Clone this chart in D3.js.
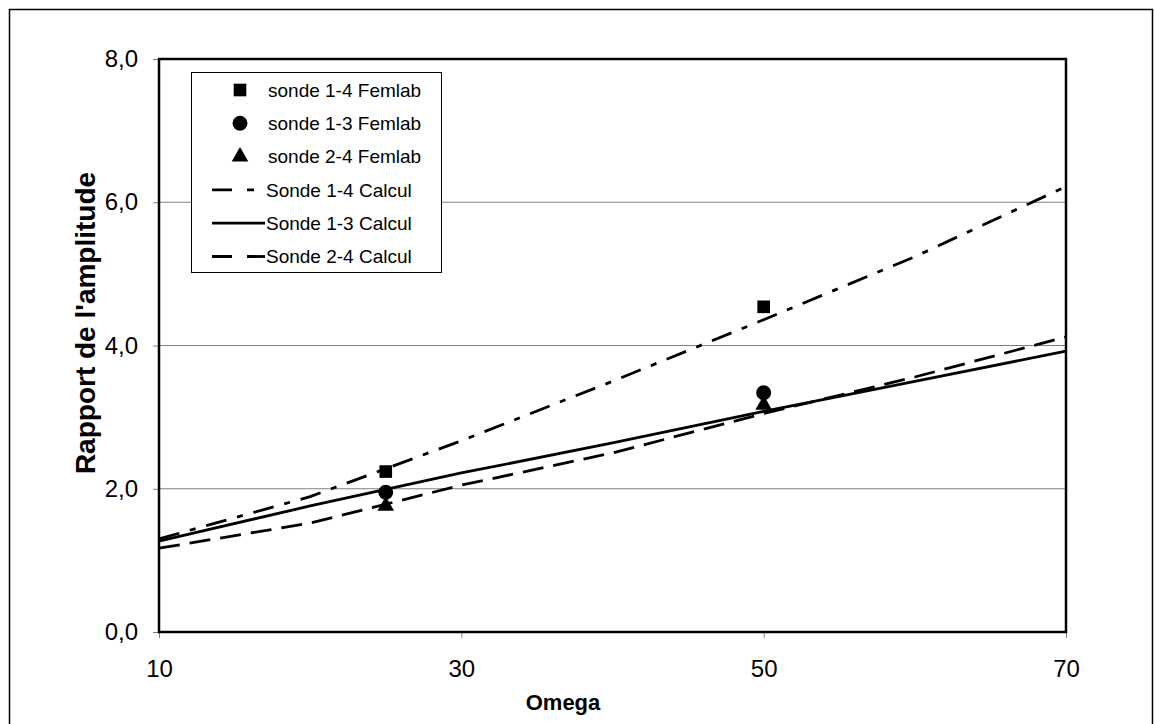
<!DOCTYPE html>
<html><head><meta charset="utf-8">
<script src="https://cdn.jsdelivr.net/npm/d3@7/dist/d3.min.js"></script>
<style>body{margin:0;background:#fff;} svg{display:block;font-family:"Liberation Sans",Arial,sans-serif;}</style>
</head><body>
<svg id="c" width="1154" height="724"></svg>
<script>
// Data
const femlabX = [25, 50];
const sonde14Femlab = [2.24, 4.54];
const sonde13Femlab = [1.95, 3.34];
const sonde24Femlab = [1.76, 3.17];
const calculX = [10, 20, 30, 40, 50, 60, 70];
const sonde14Calcul = [1.30, 1.89, 2.67, 3.50, 4.36, 5.24, 6.22];
const sonde13Calcul = [1.27, 1.76, 2.22, 2.64, 3.08, 3.50, 3.92];
const sonde24Calcul = [1.17, 1.52, 2.05, 2.50, 3.05, 3.56, 4.12];
const xTicks = [10, 30, 50, 70];
const yTicks = [0, 2, 4, 6, 8];
const legendLabels = ["sonde 1-4 Femlab","sonde 1-3 Femlab","sonde 2-4 Femlab","Sonde 1-4 Calcul","Sonde 1-3 Calcul","Sonde 2-4 Calcul"];

const svg = d3.select("#c");
const L = 159, R = 1066, T = 59, B = 632;
const x = d3.scaleLinear().domain([10, 70]).range([L, R]);
const y = d3.scaleLinear().domain([0, 8]).range([B, T]);

// outer frame
svg.append("rect").attr("x", 9.5).attr("y", 9.5).attr("width", 1143).attr("height", 720)
  .attr("fill", "none").attr("stroke", "#000").attr("stroke-width", 1.5);

// gridlines
svg.append("g").selectAll("line").data([2, 4, 6]).join("line")
  .attr("x1", L).attr("x2", R).attr("y1", d => y(d)).attr("y2", d => y(d))
  .attr("stroke", "#808080").attr("stroke-width", 1);

// axes
const fmt = d => d3.format(".1f")(d).replace(".", ",");
const yAxis = svg.append("g").attr("transform", `translate(${L},0)`)
  .call(d3.axisLeft(y).tickValues(yTicks).tickFormat(fmt).tickSize(6).tickPadding(15));
const xAxis = svg.append("g").attr("transform", `translate(0,${B})`)
  .call(d3.axisBottom(x).tickValues(xTicks).tickFormat(d3.format("d")).tickSize(6).tickPadding(22));
[yAxis, xAxis].forEach(a => {
  a.select(".domain").remove();
  a.selectAll(".tick line").attr("stroke", "#808080");
  a.selectAll(".tick text").attr("font-size", 24).attr("fill", "#000").attr("font-family", "Liberation Sans, Arial, sans-serif");
});

// lines
const line = d3.line().x((d, i) => x(calculX[i])).y(d => y(d));
const series = [
  {v: sonde14Calcul, dash: "21,11,6,11"},
  {v: sonde13Calcul, dash: null},
  {v: sonde24Calcul, dash: "21,10"}
];
series.forEach(s => {
  svg.append("path").attr("d", line(s.v)).attr("fill", "none").attr("stroke", "#000")
    .attr("stroke-width", 2.8).attr("stroke-dasharray", s.dash);
});

// markers
const sym = [d3.symbolSquare, d3.symbolCircle, d3.symbolTriangle];
const symSize = [160, 175, 120];
[sonde14Femlab, sonde13Femlab, sonde24Femlab].forEach((vals, k) => {
  svg.append("g").selectAll("path").data(vals).join("path")
    .attr("d", d3.symbol().type(sym[k]).size(symSize[k]))
    .attr("transform", (d, i) => `translate(${x(femlabX[i])},${y(d)})`)
    .attr("fill", "#000");
});

// plot border
svg.append("rect").attr("x", L).attr("y", T).attr("width", R - L).attr("height", B - T)
  .attr("fill", "none").attr("stroke", "#000").attr("stroke-width", 2.5);

// axis titles
svg.append("text").attr("x", 563).attr("y", 710).attr("text-anchor", "middle")
  .attr("font-size", 22).attr("font-weight", "bold").text("Omega");
svg.append("text").attr("transform", `translate(95,323) rotate(-90)`).attr("text-anchor", "middle")
  .attr("font-size", 28).attr("font-weight", "bold").text("Rapport de l'amplitude");

// legend
const lg = svg.append("g");
lg.append("rect").attr("x", 191.5).attr("y", 72.5).attr("width", 250).attr("height", 200)
  .attr("fill", "#fff").attr("stroke", "#000").attr("stroke-width", 1);
const rowY = i => 90 + i * 33.3;
legendLabels.forEach((t, i) => {
  const yy = rowY(i);
  if (i < 3) {
    lg.append("path").attr("d", d3.symbol().type(sym[i]).size(symSize[i])())
      .attr("transform", `translate(240,${yy})`).attr("fill", "#000");
    lg.append("text").attr("x", 268).attr("y", yy).attr("dy", "0.35em").attr("font-size", 19).text(t);
  } else {
    lg.append("line").attr("x1", 212).attr("x2", 265).attr("y1", yy).attr("y2", yy)
      .attr("stroke", "#000").attr("stroke-width", 2.8)
      .attr("stroke-dasharray", i === 3 ? "20,15,7,30" : (i === 5 ? "20,15" : null));
    lg.append("text").attr("x", 266).attr("y", yy).attr("dy", "0.35em").attr("font-size", 19).text(t);
  }
});
</script>
</body></html>
